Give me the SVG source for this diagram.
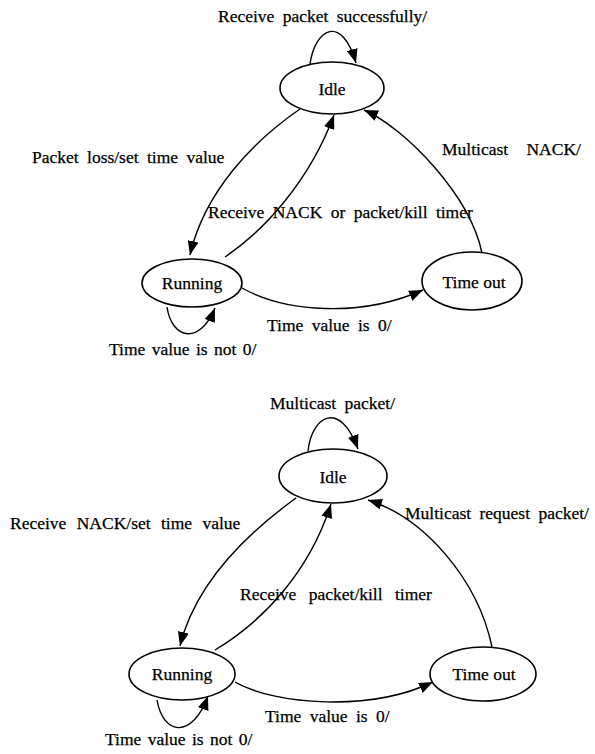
<svg xmlns="http://www.w3.org/2000/svg" width="595" height="754" viewBox="0 0 595 754">
  <style>
    .state ellipse { fill: #fff; stroke: #000; stroke-width: 1.6; }
    .state text, .label { font-family: "Liberation Serif", "Times New Roman", serif; font-size: 17.5px; fill: #000; stroke: #000; stroke-width: 0.25; }
    .state text { text-anchor: middle; }
    .label { word-spacing: 4px; }
    .tight { word-spacing: 2px; }
    .wide { word-spacing: 8px; }
    .edges path { fill: none; stroke: #000; stroke-width: 1.4; marker-end: url(#arrow); }
  </style>
  <defs>
    <marker id="arrow" markerUnits="userSpaceOnUse" markerWidth="15" markerHeight="11" refX="14" refY="5.5" orient="auto">
      <path d="M0,0 L14,5.5 L0,11 z" fill="#000"/>
    </marker>
  </defs>
  <rect width="595" height="754" fill="#fff"/>

  <!-- Sender-side timer machine -->
  <g class="edges" id="edges-top">
    <path d="M310 64 C315 28, 342 14, 356 63"/>
    <path d="M300 109 C255 140, 205 190, 190 255"/>
    <path d="M225 257 C265 230, 310 180, 334 115"/>
    <path d="M482 253 C470 195, 405 128, 364 110"/>
    <path d="M242 288 C285 312, 360 318, 423 290"/>
    <path d="M167 307 C172 340, 200 345, 215 308"/>
  </g>
  <g class="state" id="idle-top">
    <ellipse cx="332" cy="88" rx="52" ry="26"/>
    <text x="332" y="95">Idle</text>
  </g>
  <g class="state" id="running-top">
    <ellipse cx="192" cy="283" rx="50" ry="24"/>
    <text x="192" y="289">Running</text>
  </g>
  <g class="state" id="timeout-top">
    <ellipse cx="472" cy="281" rx="50" ry="29"/>
    <text x="474" y="288">Time out</text>
  </g>
  <g id="labels-top">
    <text class="label" x="218" y="22">Receive packet successfully/</text>
    <text class="label" x="32" y="163">Packet loss/set time value</text>
    <text class="label" x="208" y="218">Receive NACK or packet/kill timer</text>
    <text class="label" x="442" y="155" style="word-spacing:14px">Multicast NACK/</text>
    <text class="label" x="267" y="331">Time value is 0/</text>
    <text class="label tight" x="109" y="355">Time value is not 0/</text>
  </g>

  <!-- Receiver-side timer machine -->
  <g class="edges" id="edges-bottom">
    <path d="M308 451 C312 415, 340 400, 358 449"/>
    <path d="M296 498 C245 535, 195 585, 180 646"/>
    <path d="M215 650 C265 620, 310 570, 331 504"/>
    <path d="M492 647 C478 580, 425 518, 368 500"/>
    <path d="M235 682 C275 705, 370 712, 433 682"/>
    <path d="M157 700 C163 735, 192 740, 208 696"/>
  </g>
  <g class="state" id="idle-bottom">
    <ellipse cx="333" cy="476" rx="54" ry="27"/>
    <text x="333" y="483">Idle</text>
  </g>
  <g class="state" id="running-bottom">
    <ellipse cx="182" cy="674" rx="53" ry="26"/>
    <text x="182" y="680">Running</text>
  </g>
  <g class="state" id="timeout-bottom">
    <ellipse cx="483" cy="674" rx="53" ry="27"/>
    <text x="484" y="680">Time out</text>
  </g>
  <g id="labels-bottom">
    <text class="label" x="270" y="409">Multicast packet/</text>
    <text class="label" x="10" y="529" style="word-spacing:6px">Receive NACK/set time value</text>
    <text class="label" x="405" y="519">Multicast request packet/</text>
    <text class="label wide" x="240" y="600">Receive packet/kill timer</text>
    <text class="label" x="265" y="722">Time value is 0/</text>
    <text class="label tight" x="105" y="745">Time value is not 0/</text>
  </g>
</svg>
